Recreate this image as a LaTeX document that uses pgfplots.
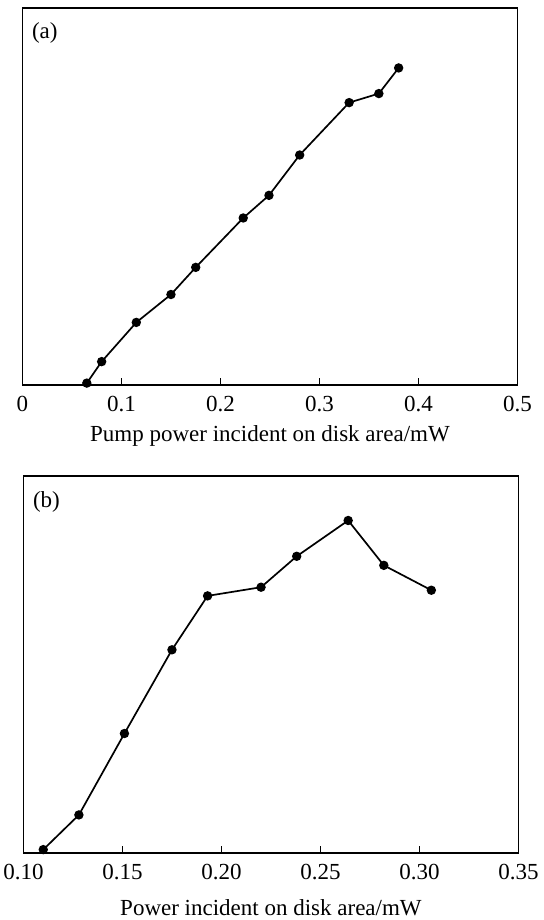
\documentclass[border=0pt]{standalone}
\usepackage{pgfplots}
\pgfplotsset{compat=1.18}
\usepackage{fontspec}
\setmainfont{Liberation Serif}
\tikzset{tag/.style={anchor=north west, inner sep=0pt, font=\fontsize{23}{27}\selectfont}}
\begin{document}
\begin{tikzpicture}
\path (0pt,0pt) rectangle (538pt,920pt);
\pgfplotsset{
  panel/.style={
    scale only axis, width=495pt, height=377pt, anchor=south west,
    axis line style={line width=1.2pt}, 
    ytick=\empty, xtick pos=bottom, xtick align=inside,
    major tick length=7pt, tick style={line width=1.1pt, black},
    font=\fontsize{23}{27}\selectfont,
    /pgf/number format/assume math mode=true,
    xticklabel style={anchor=base, yshift=-27pt},
    ymin=0, ymax=100,
    clip=false,
  },
  curve/.style={black, line width=1.7pt, mark=*, mark size=3.8pt, mark options={solid}},
}
\begin{axis}[panel, at={(17pt,535pt)}, xmin=0, xmax=0.5,
  xtick={0,0.1,0.2,0.3,0.4,0.5}, xticklabels={0,0.1,0.2,0.3,0.4,0.5},
  xlabel={Pump power incident on disk area/mW},
  xlabel style={at={(axis description cs:0.5,0)}, anchor=base, yshift=-57pt, font=\fontsize{23}{27}\selectfont}]
\addplot[curve] coordinates {
(0.065,0.5) (0.080,6.2) (0.115,16.6) (0.150,24.0) (0.175,31.2) (0.223,44.3)
(0.249,50.3) (0.280,61.0) (0.330,74.9) (0.360,77.3) (0.380,84.1)};
\node[tag] at (rel axis cs:0.019,0.963) {(a)};
\end{axis}
\begin{axis}[panel, at={(18pt,67pt)}, xmin=0.10, xmax=0.35,
  xtick={0.10,0.15,0.20,0.25,0.30,0.35},
  xticklabels={0.10,0.15,0.20,0.25,0.30,0.35},
  xlabel={Power incident on disk area/mW},
  xlabel style={at={(axis description cs:0.5,0)}, anchor=base, yshift=-62pt, font=\fontsize{23}{27}\selectfont}]
\addplot[curve] coordinates {
(0.110,0.9) (0.128,10.1) (0.151,31.7) (0.175,53.9) (0.193,68.2) (0.220,70.5)
(0.238,78.7) (0.264,88.2) (0.282,76.3) (0.306,69.7)};
\node[tag] at (rel axis cs:0.019,0.958) {(b)};
\end{axis}
\end{tikzpicture}
\end{document}
